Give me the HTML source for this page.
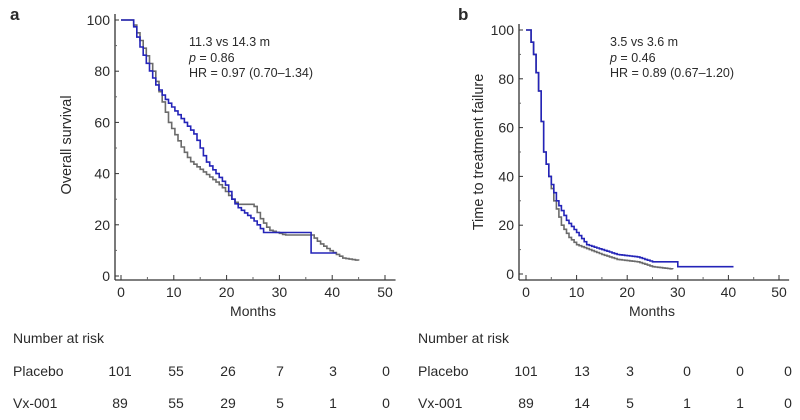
<!DOCTYPE html>
<html><head><meta charset="utf-8"><style>
body{margin:0;background:#fff;}
svg{display:block;font-family:"Liberation Sans",Arial,sans-serif;}
text{fill:#2a2a2a;}
</style></head><body>
<svg id="s" width="800" height="420" viewBox="0 0 800 420">
<text x="10" y="20" font-size="17" font-weight="bold">a</text>
<text x="458" y="20" font-size="17" font-weight="bold">b</text>
<g id="g"></g>
<g font-size="12.5">
<text x="189" y="46">11.3 vs 14.3 m</text>
<text x="189" y="62"><tspan font-style="italic">p</tspan> = 0.86</text>
<text x="189" y="77">HR = 0.97 (0.70–1.34)</text>
<text x="610" y="46">3.5 vs 3.6 m</text>
<text x="610" y="62"><tspan font-style="italic">p</tspan> = 0.46</text>
<text x="610" y="77">HR = 0.89 (0.67–1.20)</text>
</g>
<text transform="translate(71,145) rotate(-90)" font-size="14.5" text-anchor="middle">Overall survival</text>
<text transform="translate(483,152) rotate(-90)" font-size="14.5" text-anchor="middle">Time to treatment failure</text>
<text x="253" y="316" font-size="14" text-anchor="middle">Months</text>
<text x="652" y="316" font-size="14" text-anchor="middle">Months</text>
<g font-size="14">
<text x="13" y="343">Number at risk</text>
<text x="13" y="376">Placebo</text>
<text x="13" y="408">Vx-001</text>
<text x="418" y="343">Number at risk</text>
<text x="418" y="376">Placebo</text>
<text x="418" y="408">Vx-001</text>
<g text-anchor="middle">
<text x="120" y="376">101</text><text x="176" y="376">55</text><text x="228" y="376">26</text><text x="280" y="376">7</text><text x="333" y="376">3</text><text x="386" y="376">0</text>
<text x="120" y="408">89</text><text x="176" y="408">55</text><text x="228" y="408">29</text><text x="280" y="408">5</text><text x="333" y="408">1</text><text x="386" y="408">0</text>
<text x="526" y="376">101</text><text x="582" y="376">13</text><text x="630" y="376">3</text><text x="687" y="376">0</text><text x="740" y="376">0</text><text x="788" y="376">0</text>
<text x="526" y="408">89</text><text x="582" y="408">14</text><text x="630" y="408">5</text><text x="687" y="408">1</text><text x="740" y="408">1</text><text x="788" y="408">0</text>
</g></g>
</svg>
<script>
var NS="http://www.w3.org/2000/svg",g=document.getElementById("g");
function el(t,a,txt){var e=document.createElementNS(NS,t);for(var k in a)e.setAttribute(k,a[k]);if(txt!=null)e.textContent=txt;g.appendChild(e);return e;}
function panel(P){
 var X=function(m){return P.x0+m*P.sx},Y=function(v){return P.y0-v*P.sy};
 el("line",{x1:P.ax,y1:P.y100-6,x2:P.ax,y2:280,stroke:"#333","stroke-width":1.3});
 el("line",{x1:P.ax,y1:280,x2:X(52),y2:280,stroke:"#333","stroke-width":1.3});
 for(var v=0;v<=100;v+=20){el("line",{x1:P.ax,y1:Y(v),x2:P.ax+4,y2:Y(v),stroke:"#333"});el("text",{x:P.ax-5,y:Y(v)+5,"font-size":14,"text-anchor":"end"},v);}
 for(v=10;v<100;v+=20)el("line",{x1:P.ax,y1:Y(v),x2:P.ax+2,y2:Y(v),stroke:"#666"});
 for(var m=0;m<=50;m+=10){el("line",{x1:X(m),y1:280,x2:X(m),y2:275,stroke:"#333"});el("text",{x:X(m),y:297,"font-size":14,"text-anchor":"middle"},m);}
 for(m=5;m<50;m+=10)el("line",{x1:X(m),y1:280,x2:X(m),y2:277,stroke:"#666"});
 P.c.forEach(function(c){
  var pts=c.p,d="M"+X(0)+","+Y(100),step=c.st;
  for(var t=pts[0][0];t<=pts[pts.length-1][0]+1e-9;t+=step){
   var i=0;while(i<pts.length-2&&pts[i+1][0]<t)i++;
   var a=pts[i],b=pts[i+1],f=(t-a[0])/(b[0]-a[0]);f=Math.max(0,Math.min(1,f));
   var v2=a[1]+(b[1]-a[1])*f; if(b[1]===a[1])v2=a[1];
   d+=" H"+X(t).toFixed(1)+" V"+Y(v2).toFixed(1);}
  el("path",{d:d,fill:"none",stroke:c.col,"stroke-width":1.6});
 });
}
panel({ax:115,x0:121,sx:5.28,y0:276,sy:2.56,y100:20,c:[
 {col:"#6b6b6b",st:0.6,p:[[0,100],[2,100],[4,90],[6,80],[7.5,70],[9,60],[11.5,50],[13,45],[16,40],[19,35],[21,30],[22,28],[25,28],[26.5,22],[28,18],[31,16],[36,16],[37.5,13],[39.5,10],[42,7],[45,6]]},
 {col:"#2424b8",st:0.6,p:[[0,100],[2,100],[3.5,90],[5,82],[6.5,75],[8,70],[10,65],[12,60],[14,55],[16,45],[18,40],[20,35],[21,30],[22,27],[25,22],[27,17],[35.5,17],[36,9],[41,9]]}]});
panel({ax:519,x0:526,sx:5.06,y0:274,sy:2.44,y100:30,c:[
 {col:"#6b6b6b",st:0.5,p:[[0,100],[0.5,100],[1.5,90],[2.5,75],[3.5,50],[4.5,40],[5.5,30],[7,20],[8.5,15],[10,12],[12.5,10],[15,8],[18,6],[22,5],[25,3],[29,2]]},
 {col:"#2424b8",st:0.5,p:[[0,100],[0.5,100],[1.5,90],[2.5,75],[3.5,50],[4.5,40],[6,30],[8,22],[10,17],[12,12],[15,10],[18,8],[22,7],[25,5],[29.5,5],[30,3],[41,3]]}]});
</script>
</body></html>
